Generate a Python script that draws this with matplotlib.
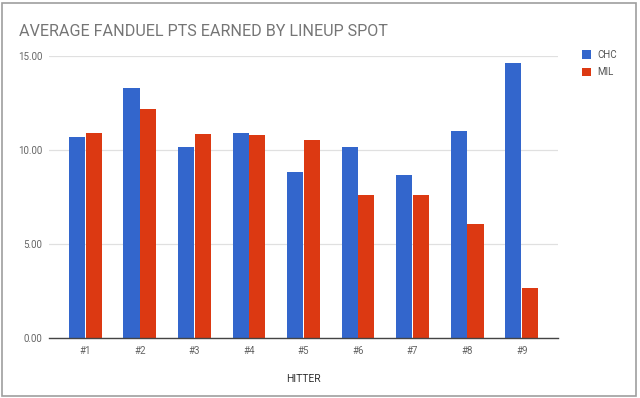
#Import Library
import numpy as np
import matplotlib
matplotlib.use('Agg')
import matplotlib.pyplot as plt
from matplotlib.patches import Rectangle

#Data
hitters = ['#1', '#2', '#3', '#4', '#5', '#6', '#7', '#8', '#9']
chc = [10.69, 13.30, 10.18, 10.90, 8.81, 10.18, 8.65, 10.99, 14.63]
mil = [10.90, 12.16, 10.83, 10.78, 10.53, 7.59, 7.59, 6.06, 2.68]
yticks = [0, 5, 10, 15]
ytick_labels = ['0.00', '5.00', '10.00', '15.00']

plt.rcParams['font.family'] = ['Roboto', 'DejaVu Sans']

fig = plt.figure(figsize=(6.4, 3.98), dpi=100)
ax = fig.add_axes([49/640, 60/398, 509/640, 282/398])

x = np.arange(len(hitters))
w = 0.295
ax.bar(x - 0.153, chc, width=w, color='#3366cc', label='CHC', zorder=3)
ax.bar(x + 0.153, mil, width=w, color='#dc3912', label='MIL', zorder=3)

ax.set_xlim(-0.665, 8.665)
ax.set_ylim(0, 15)
ax.set_yticks(yticks)
ax.set_yticklabels(ytick_labels)
ax.set_xticks(x)
ax.set_xticklabels(hitters)
ax.tick_params(axis='both', length=0, labelsize=7, labelcolor='#666666')
ax.tick_params(axis='y', pad=5)
ax.tick_params(axis='x', pad=6)
ax.grid(axis='y', color='#e0e0e0', linewidth=0.9, zorder=0)
for s in ['top', 'right', 'left']:
    ax.spines[s].set_visible(False)
ax.spines['bottom'].set_color('#444444')
ax.spines['bottom'].set_linewidth(1.0)
ax.spines['bottom'].set_zorder(4)

ax.set_xlabel('HITTER', fontsize=7.5, color='#333333', labelpad=13)

#Title
fig.text(19/640, 1 - 31/398, 'AVERAGE FANDUEL PTS EARNED BY LINEUP SPOT',
         fontsize=11.6, color='#757575', va='center', ha='left')

#Legend
leg = fig.legend(loc='upper left', bbox_to_anchor=(577/640, 1 - 45/398), frameon=False,
                 fontsize=7, handlelength=0.9, handleheight=0.9, handletextpad=0.7,
                 labelspacing=0.75, borderpad=0)
for t in leg.get_texts():
    t.set_color('#555555')

#Border
fig.patches.append(Rectangle((2/640, 2/398), 634/640, 393/398, transform=fig.transFigure,
                             fill=False, edgecolor='#9e9e9e', linewidth=1.2))

fig.savefig('out.png', dpi=100)
